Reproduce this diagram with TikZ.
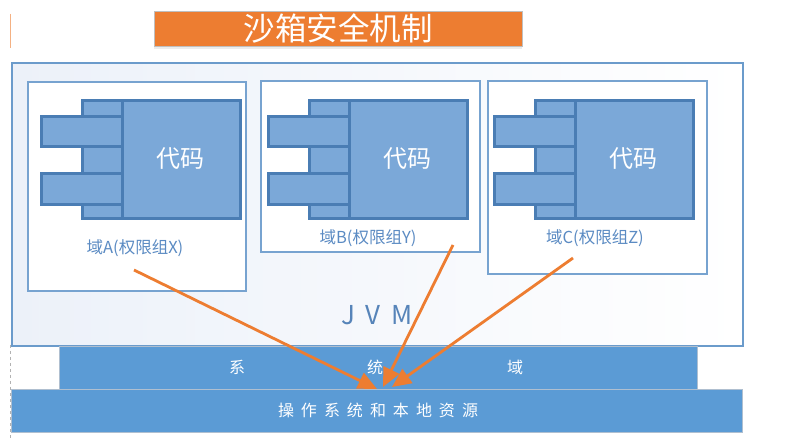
\documentclass[tikz,border=0pt]{standalone}
\usepackage{fontspec}
\setmainfont{Noto Sans CJK SC}
\usetikzlibrary{arrows.meta,shadows}
\definecolor{orangeT}{HTML}{ED7D31}
\definecolor{jvmborder}{HTML}{6B9BCB}
\definecolor{jvmfill}{HTML}{ECF1F9}
\definecolor{domborder}{HTML}{77A3D0}
\definecolor{compfill}{HTML}{7BA8D8}
\definecolor{compborder}{HTML}{4A7DB4}
\definecolor{labelblue}{HTML}{5B8BC3}
\definecolor{barfill}{HTML}{5B9BD5}
\definecolor{barborder}{HTML}{AFBFD0}
\tikzset{
  titlebox/.style={fill=orangeT, draw=black!25, line width=0.6pt, inner sep=0pt, anchor=north west,
    drop shadow={opacity=0.15, shadow xshift=0pt, shadow yshift=-3pt}},
  jvmbox/.style={draw=jvmborder, line width=2pt, left color=jvmfill, right color=white, inner sep=0pt, anchor=north west},
  dombox/.style={draw=domborder, line width=1.8pt, fill=white, inner sep=0pt, anchor=north west},
  comppart/.style={draw=compborder, fill=compfill, line width=3pt, inner sep=0pt, anchor=north west},
  domlabel/.style={text=labelblue, font=\fontsize{16.5}{20}\selectfont},
  codetext/.style={text=white, font=\fontsize{24}{28}\selectfont},
  barbox/.style={fill=barfill, draw=barborder, line width=0.8pt, inner sep=0pt, anchor=north west},
  bartext/.style={text=white, font=\fontsize{16}{20}\selectfont},
  accessarrow/.style={draw=orangeT, line width=2.8pt, -{Triangle[length=19pt,width=17pt]}}
}
\begin{document}
\begin{tikzpicture}[x=1pt,y=-1pt]
\useasboundingbox (0,0) rectangle (803,443);
\fill[white] (0,0) rectangle (803,443);
% faint left edge marks
\draw[orangeT!60, line width=0.8pt] (10,14) -- (10,48);
\draw[black!30, line width=0.8pt, dashed] (10,345) -- (10,440);
% title
\node[titlebox, minimum width=368pt, minimum height=35pt] (title) at (154,11) {};
\node[text=white, font=\fontsize{31.5}{34}\selectfont] (titletext) at (title.center) {沙箱安全机制};
% JVM box
\node[jvmbox, minimum width=731pt, minimum height=283pt] (jvm) at (11,62) {};
\node[text=labelblue!95!black, font=\fontsize{26}{30}\selectfont] (jvmlabel) at (377,315) {J\hspace{11pt}V\hspace{11pt}M};
% domains
\node[dombox, minimum width=218pt, minimum height=209pt] (domA) at (27,81) {};
\node[dombox, minimum width=219pt, minimum height=171pt] (domB) at (260,80) {};
\node[dombox, minimum width=219pt, minimum height=193pt] (domC) at (487,80) {};
% components
\foreach \x/\n in {40/A, 267/B, 493/C}{
  \node[comppart, minimum width=40pt, minimum height=118pt] (col\n) at (\x+41,99) {};
  \node[comppart, minimum width=81pt, minimum height=30pt] (tabu\n) at (\x,115) {};
  \node[comppart, minimum width=81pt, minimum height=31pt] (tabl\n) at (\x,172) {};
  \node[comppart, minimum width=118pt, minimum height=118pt] (sq\n) at (\x+81,99) {};
  \node[codetext] (code\n) at (\x+140,159) {代码};
}
\node[domlabel] (labA) at (135,248) {域A(权限组X)};
\node[domlabel] (labB) at (368,238) {域B(权限组Y)};
\node[domlabel] (labC) at (595,238) {域C(权限组Z)};
% bars
\node[barbox, minimum width=638pt, minimum height=43pt] (sysbar) at (59,346) {};
\node[bartext] (sys1) at (237,367) {系};
\node[bartext] (sys2) at (375,367) {统};
\node[bartext] (sys3) at (515,367) {域};
\node[barbox, minimum width=731pt, minimum height=43pt] (osbar) at (11,389) {};
\node[bartext] (ostext) at (378,410) {操\hspace{7pt}作\hspace{7pt}系\hspace{7pt}统\hspace{7pt}和\hspace{7pt}本\hspace{7pt}地\hspace{7pt}资\hspace{7pt}源};
% arrows
\coordinate (sA) at (134,270);
\coordinate (sB) at (453,245);
\coordinate (sC) at (573,258);
\coordinate (tA) at (377,389);
\coordinate (tB) at (383,387);
\coordinate (tC) at (392,387);
\draw[accessarrow] (sA) -- (tA);
\draw[accessarrow] (sB) -- (tB);
\draw[accessarrow] (sC) -- (tC);
\end{tikzpicture}
\end{document}
